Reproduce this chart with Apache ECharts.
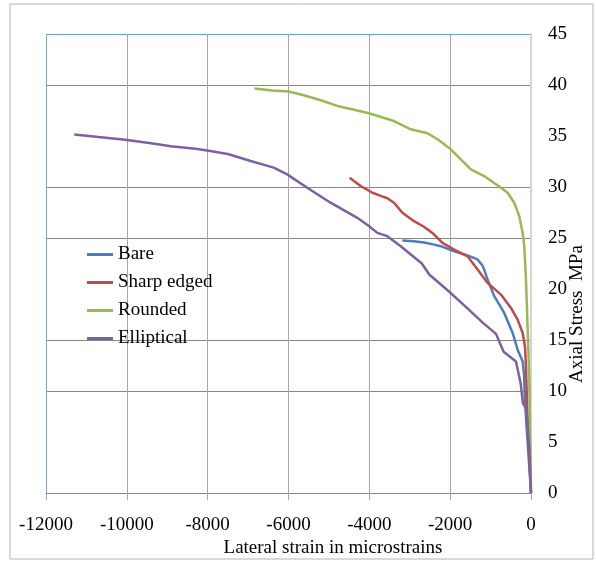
<!DOCTYPE html>
<html>
<head>
<meta charset="utf-8">
<script src="https://cdn.jsdelivr.net/npm/echarts@6/dist/echarts.min.js"></script>
<style>html,body{margin:0;padding:0;background:#fff}#c{width:596px;height:563px}</style>
</head>
<body>
<div id="c"></div>
<script>
const seriesNames = ['Bare', 'Sharp edged', 'Rounded', 'Elliptical'];
const xTicks = [-12000, -10000, -8000, -6000, -4000, -2000, 0];
const yTicks = [0, 5, 10, 15, 20, 25, 30, 35, 40, 45];

const bareStrain  = [-3182, -2900, -2645, -2400, -2232, -1901, -1570, -1322, -1200, -1158, -1074, -910, -662, -454, -331, -206, -170, -150, -100, -50, 0];
const bareStress  = [24.75, 24.68, 24.55, 24.35, 24.2, 23.7, 23.3, 22.9, 22.3, 21.9, 20.9, 19.3, 17.65, 15.69, 14.05, 12.9, 11.5, 9.0, 6, 3, 0];

const sharpStrain = [-4488, -4215, -3925, -3700, -3554, -3389, -3182, -2893, -2650, -2438, -2190, -1901, -1570, -1322, -1074, -744, -496, -331, -206, -149, -124, -100, -60, -25, 0];
const sharpStress = [30.9, 30.1, 29.44, 29.1, 28.9, 28.46, 27.47, 26.65, 26.1, 25.5, 24.52, 23.87, 23.2, 21.9, 20.6, 19.45, 18.14, 17.0, 15.69, 14.37, 12.4, 9, 5, 2, 0];

const roundStrain = [-6840, -6400, -5993, -5621, -5200, -4793, -4400, -4009, -3389, -2975, -2562, -2314, -1984, -1736, -1488, -1158, -744, -578, -414, -290, -206, -166, -149, -124, -82, -42, -20, 0];
const roundStress = [39.66, 39.45, 39.36, 39.0, 38.5, 37.95, 37.6, 37.23, 36.47, 35.66, 35.27, 34.68, 33.7, 32.7, 31.73, 31.07, 29.93, 29.44, 28.46, 27.14, 25.5, 24.2, 22.9, 20.9, 16.0, 11.1, 5, 0];

const ellipStrain = [-11300, -10700, -10042, -9400, -8913, -8300, -7972, -7501, -6936, -6365, -6033, -5537, -4959, -4298, -4019, -3802, -3554, -3223, -2701, -2513, -2042, -1572, -1195, -866, -678, -372, -254, -200, -120, -42, 0];
const ellipStress = [35.15, 34.9, 34.64, 34.3, 34.0, 33.75, 33.55, 33.23, 32.55, 31.9, 31.24, 29.93, 28.46, 26.98, 26.2, 25.5, 25.18, 24.2, 22.5, 21.4, 19.8, 18.1, 16.7, 15.6, 13.85, 12.9, 10.7, 8.8, 8.3, 4.5, 0];

const colors = ['#4A7EBB', '#BE4B48', '#98B954', '#7D60A0'];
const zip = (a, b) => a.map((v, i) => [v, b[i]]);
const allData = [zip(bareStrain, bareStress), zip(sharpStrain, sharpStress), zip(roundStrain, roundStress), zip(ellipStrain, ellipStress)];

const FONT = '"Liberation Serif", "Times New Roman", serif';
const H = '#868686';
const chart = echarts.init(document.getElementById('c'));
chart.setOption({
  animation: false,
  backgroundColor: '#fff',
  grid: { left: 46, right: 65, top: 34, bottom: 70, containLabel: false },
  legend: {
    data: seriesNames,
    orient: 'vertical',
    left: 87, top: 245, padding: 0,
    icon: 'rect',
    itemWidth: 26, itemHeight: 3, itemGap: 9,
    textStyle: { fontFamily: FONT, fontSize: 19, color: '#000' }
  },
  xAxis: {
    type: 'value', min: xTicks[0], max: xTicks[xTicks.length - 1], interval: 2000,
    axisLine: { show: true, onZero: false, lineStyle: { color: H, width: 1 } },
    axisTick: { show: true, length: 7, lineStyle: { color: '#a6a6a6' } },
    axisLabel: { margin: 23, fontFamily: FONT, fontSize: 19, color: '#000',
      formatter: v => String(v) },
    splitLine: { show: true, lineStyle: { color: ['#7aa3d6', '#a6a6a6', '#a6a6a6', '#a6a6a6', '#a6a6a6', '#a6a6a6', '#d4d4d4'], width: 1 } }
  },
  yAxis: {
    type: 'value', position: 'right', min: yTicks[0], max: yTicks[yTicks.length - 1], interval: 5,
    axisLine: { show: true, lineStyle: { color: '#d4d4d4', width: 2 } },
    axisTick: { show: false },
    axisLabel: { margin: 17, fontFamily: FONT, fontSize: 19, color: '#000', formatter: v => String(v) },
    splitLine: { show: true, lineStyle: { color: [H, 'transparent', H, H, 'transparent', H, H, 'transparent', H, '#6f9bd3'], width: 1 } }
  },
  graphic: [
    { type: 'rect', shape: { x: 10, y: 4, width: 583, height: 555 }, style: { fill: 'none', stroke: '#b4b4b4', lineWidth: 1 }, silent: true },
    { type: 'text', x: 333, y: 548, style: { text: 'Lateral strain in microstrains', font: '19px ' + FONT, fill: '#000', align: 'center', verticalAlign: 'middle' } },
    { type: 'text', x: 577, y: 314, rotation: Math.PI / 2, style: { text: 'Axial Stress  MPa', font: '19px ' + FONT, fill: '#000', align: 'center', verticalAlign: 'middle' } }
  ],
  series: seriesNames.map((n, i) => ({
    name: n, type: 'line', data: allData[i],
    symbol: 'none', showSymbol: false,
    color: colors[i],
    lineStyle: { color: colors[i], width: 2.5 },
    z: 3
  }))
});
</script>
</body>
</html>
